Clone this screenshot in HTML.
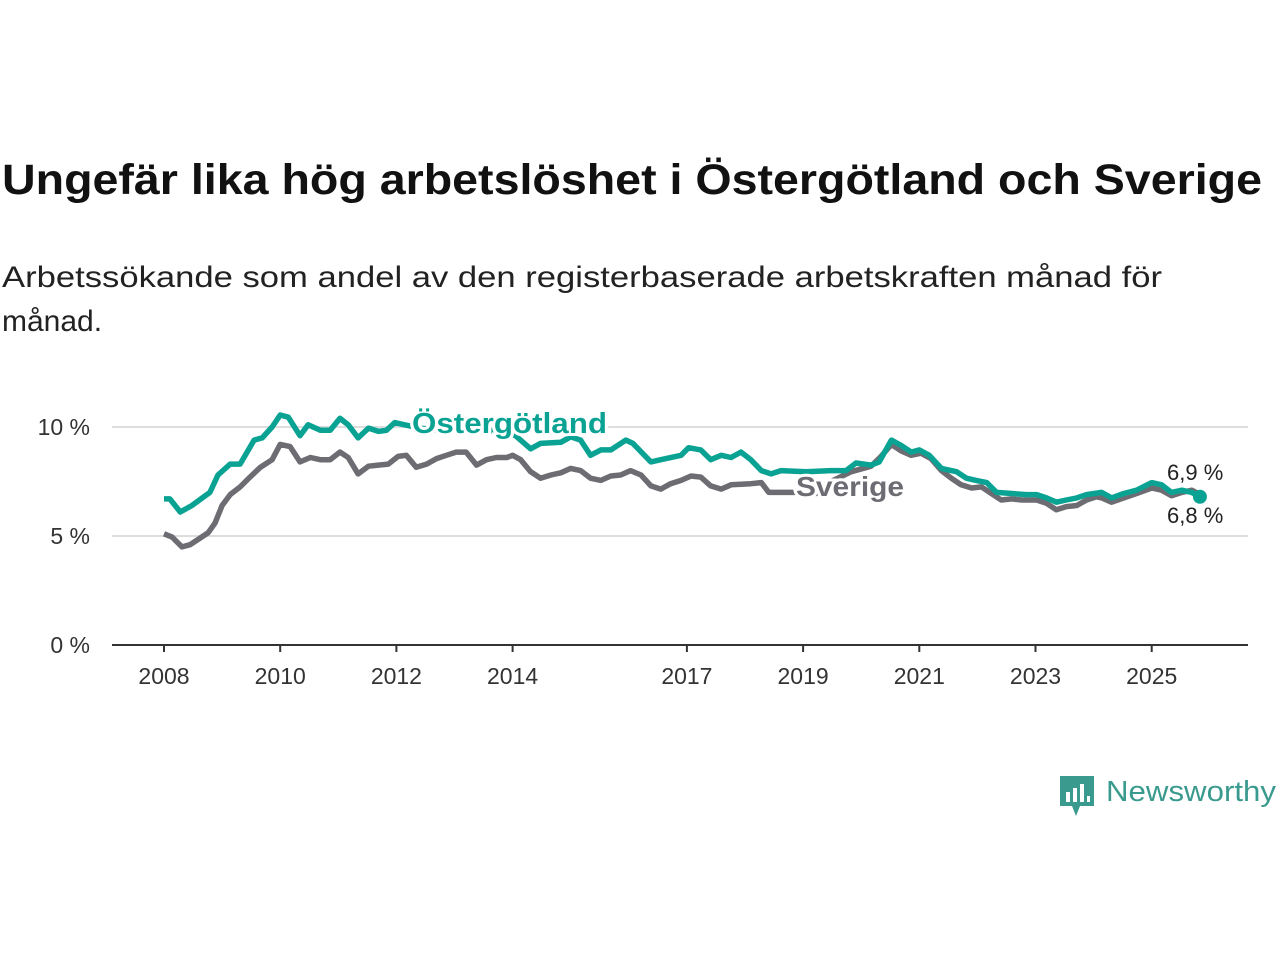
<!DOCTYPE html>
<html><head><meta charset="utf-8"><style>
body{margin:0;background:#fff;width:1280px;height:960px;overflow:hidden;font-family:"Liberation Sans",sans-serif}
</style></head><body>
<svg id="c" width="1280" height="960" xmlns="http://www.w3.org/2000/svg">
<text x="2" y="194" font-size="43" font-weight="bold" fill="#111" textLength="1260" lengthAdjust="spacingAndGlyphs">Ungefär lika hög arbetslöshet i Östergötland och Sverige</text>
<text x="2" y="287" font-size="30" fill="#222" textLength="1160" lengthAdjust="spacingAndGlyphs">Arbetssökande som andel av den registerbaserade arbetskraften månad för</text>
<text x="2" y="331" font-size="30" fill="#222">månad.</text>
<g id="grid"></g><g id="lines"></g><g id="labels"></g>
<g>
<path d="M1060 776h34v30h-14l-4 10-4-10h-12z" fill="#3a9a8e"/>
<rect x="1066" y="792" width="4" height="10" fill="#fff"/><rect x="1073" y="788" width="4" height="14" fill="#fff"/><rect x="1080" y="784" width="4" height="18" fill="#fff"/><rect x="1087" y="796" width="3" height="6" fill="#fff"/>
<text x="1106" y="801" font-size="29" fill="#3a9a8e" textLength="170" lengthAdjust="spacingAndGlyphs">Newsworthy</text>
</g>
</svg>
<script>
const yTicks=[0,5,10];
const xTicks=[2008,2010,2012,2014,2017,2019,2021,2023,2025];
const ostDates=[2008.0,2008.1,2008.28,2008.48,2008.79,2008.93,2009.14,2009.31,2009.55,2009.69,2009.86,2010.0,2010.14,2010.34,2010.48,2010.69,2010.86,2011.03,2011.17,2011.34,2011.52,2011.69,2011.83,2011.97,2012.14,2012.41,2012.76,2013.1,2013.45,2013.79,2014.05,2014.31,2014.48,2014.83,2015.0,2015.17,2015.34,2015.52,2015.69,2015.95,2016.07,2016.38,2016.55,2016.9,2017.03,2017.24,2017.41,2017.59,2017.76,2017.93,2018.1,2018.28,2018.45,2018.62,2019.05,2019.48,2019.74,2019.91,2020.17,2020.31,2020.52,2020.69,2020.86,2021.0,2021.17,2021.38,2021.64,2021.81,2021.98,2022.16,2022.33,2022.59,2022.84,2023.02,2023.19,2023.36,2023.53,2023.71,2023.88,2024.14,2024.31,2024.52,2024.74,2025.0,2025.17,2025.34,2025.52,2025.69,2025.83];
const ostValues=[6.7,6.7,6.1,6.4,7.0,7.8,8.3,8.3,9.4,9.5,10.0,10.55,10.45,9.6,10.1,9.85,9.85,10.4,10.1,9.5,9.95,9.8,9.85,10.2,10.1,9.95,9.85,9.95,9.8,9.85,9.6,9.0,9.25,9.3,9.55,9.4,8.7,8.95,8.95,9.4,9.25,8.4,8.5,8.7,9.05,8.95,8.5,8.7,8.6,8.85,8.5,8.0,7.85,8.0,7.95,8.0,8.0,8.35,8.25,8.4,9.4,9.15,8.85,8.95,8.7,8.1,7.95,7.65,7.55,7.45,7.0,6.95,6.9,6.9,6.75,6.55,6.65,6.75,6.9,7.0,6.75,6.95,7.1,7.45,7.35,7.0,7.1,7.0,6.8];
const sveDates=[2008.0,2008.14,2008.31,2008.45,2008.62,2008.76,2008.88,2009.0,2009.14,2009.31,2009.48,2009.66,2009.86,2010.0,2010.17,2010.34,2010.52,2010.69,2010.86,2011.03,2011.17,2011.34,2011.52,2011.69,2011.86,2012.03,2012.17,2012.34,2012.52,2012.69,2012.86,2013.03,2013.2,2013.38,2013.55,2013.72,2013.9,2014.0,2014.14,2014.31,2014.48,2014.66,2014.83,2015.0,2015.17,2015.34,2015.52,2015.69,2015.86,2016.03,2016.21,2016.38,2016.55,2016.72,2016.9,2017.07,2017.24,2017.41,2017.59,2017.76,2018.1,2018.28,2018.41,2018.62,2018.97,2019.22,2019.48,2019.83,2020.17,2020.34,2020.52,2020.69,2020.86,2021.03,2021.2,2021.38,2021.55,2021.72,2021.9,2022.07,2022.24,2022.41,2022.59,2022.76,2023.02,2023.19,2023.36,2023.53,2023.71,2023.88,2024.05,2024.14,2024.31,2024.52,2024.74,2025.0,2025.17,2025.34,2025.52,2025.69,2025.83];
const sveValues=[5.1,4.95,4.5,4.6,4.9,5.15,5.6,6.4,6.9,7.25,7.7,8.15,8.5,9.2,9.1,8.4,8.6,8.5,8.5,8.85,8.6,7.85,8.2,8.25,8.3,8.65,8.7,8.15,8.3,8.55,8.7,8.85,8.85,8.25,8.5,8.6,8.6,8.7,8.5,7.95,7.65,7.8,7.9,8.1,8.0,7.65,7.55,7.75,7.8,8.0,7.8,7.3,7.15,7.4,7.55,7.75,7.7,7.3,7.15,7.35,7.4,7.45,7.0,7.0,7.0,6.95,7.5,7.95,8.2,8.65,9.2,8.9,8.7,8.8,8.55,8.0,7.65,7.35,7.2,7.25,6.95,6.65,6.7,6.65,6.65,6.5,6.2,6.35,6.4,6.65,6.8,6.75,6.55,6.75,6.95,7.2,7.1,6.85,7.0,7.1,6.9];
const NS="http://www.w3.org/2000/svg";
const X=t=>164+(t-2008)*58.1;
const Y=v=>645-v*21.8;
function mk(tag,attrs,parent,txt){const e=document.createElementNS(NS,tag);for(const k in attrs)e.setAttribute(k,attrs[k]);if(txt!=null)e.textContent=txt;parent.appendChild(e);return e;}
const grid=document.getElementById('grid'),lines=document.getElementById('lines'),labels=document.getElementById('labels');
yTicks.forEach(v=>{
 const l=mk('line',{x1:112,x2:1248,y1:Y(v),y2:Y(v),stroke:v===0?'#333':'#ddd','stroke-width':2},grid);
 
 
 const t=mk('text',{x:90,y:Y(v)+8,'text-anchor':'end','font-size':23,fill:'#333'},grid,v+' %');
 
 
});
xTicks.forEach(yr=>{
 const tk=mk('line',{x1:X(yr),x2:X(yr),y1:645,y2:652,stroke:'#333','stroke-width':2},grid);
 
 
 const t=mk('text',{x:X(yr),y:684,'text-anchor':'middle','font-size':23,fill:'#333'},grid,String(yr));
 
 
});
function path(d,v){return d.map((t,i)=>(i?'L':'M')+X(t).toFixed(1)+' '+Y(v[i]).toFixed(1)).join('');}
const p1=mk('path',{d:path(sveDates,sveValues),fill:'none',stroke:'#6e6c73','stroke-width':5.5,'stroke-linejoin':'round'},lines);


const p2=mk('path',{d:path(ostDates,ostValues),fill:'none',stroke:'#0aa393','stroke-width':5.5,'stroke-linejoin':'round'},lines);


const lo=ostDates.length-1;
const dot=mk('circle',{cx:X(ostDates[lo]),cy:Y(ostValues[lo]),r:7,fill:'#0aa393'},lines);


const l1=mk('text',{x:412,y:433,'font-size':29,'font-weight':'bold',fill:'#0aa393',stroke:'#fff','stroke-width':6,'paint-order':'stroke',textLength:195,lengthAdjust:'spacingAndGlyphs'},labels,'Östergötland');


const l2=mk('text',{x:796,y:496,'font-size':28,'font-weight':'bold',fill:'#6e6c73',stroke:'#fff','stroke-width':6,'paint-order':'stroke',textLength:108,lengthAdjust:'spacingAndGlyphs'},labels,'Sverige');


const v1=mk('text',{x:1167,y:480,'font-size':22,fill:'#222',stroke:'#fff','stroke-width':4,'paint-order':'stroke'},labels,'6,9 %');


const v2=mk('text',{x:1167,y:523,'font-size':22,fill:'#222',stroke:'#fff','stroke-width':4,'paint-order':'stroke'},labels,'6,8 %');


</script>
</body></html>
